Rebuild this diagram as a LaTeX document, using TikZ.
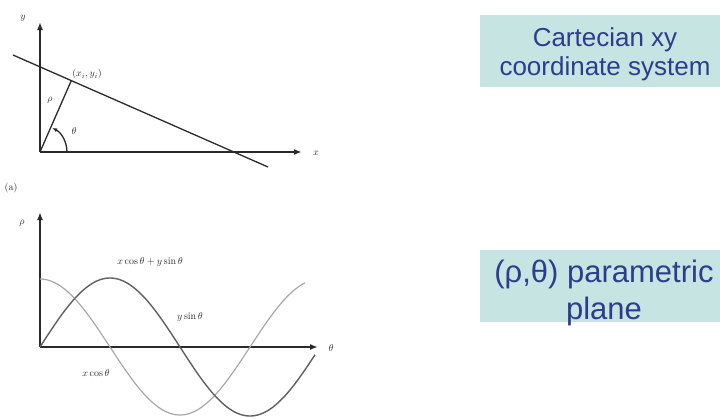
\documentclass[tikz,border=0pt]{standalone}
\usepackage{fontspec}
\newfontfamily\boxfont{Liberation Sans}
\usetikzlibrary{arrows.meta}
\definecolor{boxfill}{HTML}{C6E4E2}
\definecolor{boxtext}{HTML}{2E3C8C}
\definecolor{axis}{HTML}{2A2A2A}
\definecolor{curveA}{HTML}{606060}
\definecolor{curveB}{HTML}{A8A8A8}
\tikzset{
  axisline/.style={draw=axis, line width=1.8pt, -{Latex[length=8pt,width=6pt]}},
  geoline/.style={draw=axis, line width=1.3pt},
  lbl/.style={inner sep=0pt, text=axis, font=\fontsize{10}{11}\selectfont},
  panel/.style={fill=boxfill, draw=none, inner sep=0pt},
  ptext/.style={text=boxtext, align=center, inner sep=0pt},
}
\begin{document}
\begin{tikzpicture}[x=1pt,y=-1pt]
\useasboundingbox (0,0) rectangle (720,418);
% ---------- top: Cartesian ----------
\coordinate (O) at (40,152);
\coordinate (Ytop) at (40,22);
\coordinate (Xend) at (302,152);
\coordinate (L1) at (13,55);
\coordinate (L2) at (268,167);
\coordinate (P) at (71.3,80.6);
\draw[axisline] (O) -- (Ytop);
\draw[axisline] (O) -- (Xend);
\draw[geoline] (L1) -- (L2);
\draw[geoline] (O) -- (P);
\draw[geoline, -{Latex[length=5pt,width=4pt]}] (67,152) arc[start angle=0, end angle=-63, radius=27];
\node[lbl] (ylab) at (23,18) {$y$};
\node[lbl] (xlab) at (316,153) {$x$};
\node[lbl] (plab) at (87,74) {$(x_i,y_i)$};
\node[lbl] (rholab) at (50,100) {$\rho$};
\node[lbl] (thlab) at (74,131) {$\theta$};
\node[lbl] (alab) at (11,188) {(a)};
% ---------- bottom: parametric ----------
\coordinate (O2) at (40,347);
\coordinate (R2) at (40,212);
\coordinate (T2) at (318,347);
\draw[axisline] (O2) -- (R2);
\draw[axisline] (O2) -- (T2);
\draw[draw=curveB, line width=1.2pt] plot[domain=40:305, samples=120, smooth] (\x, {347-68*cos((\x-40)/280*360)});
\draw[draw=curveA, line width=1.4pt] plot[domain=40:315, samples=120, smooth] (\x, {347-69*sin((\x-40)/280*360)});
\node[lbl] (rho2) at (22,223) {$\rho$};
\node[lbl] (th2) at (331,348) {$\theta$};
\node[lbl] (sumlab) at (150,262) {$x\cos\theta+y\sin\theta$};
\node[lbl] (ylab2) at (190,317) {$y\sin\theta$};
\node[lbl] (xlab2) at (96,373) {$x\cos\theta$};
% ---------- boxes ----------
\node[panel, minimum width=240pt, minimum height=72pt] (box1) at (600,51) {};
\node[ptext, font=\boxfont\fontsize{26}{29}\selectfont] (box1text) at (605,54.5) {Cartecian xy\\coordinate system};
\node[panel, minimum width=240pt, minimum height=72pt] (box2) at (600,286) {};
\node[ptext, font=\boxfont\fontsize{31}{37}\selectfont] (box2text) at (604,293) {(ρ,θ) parametric\\plane};
\end{tikzpicture}
\end{document}
